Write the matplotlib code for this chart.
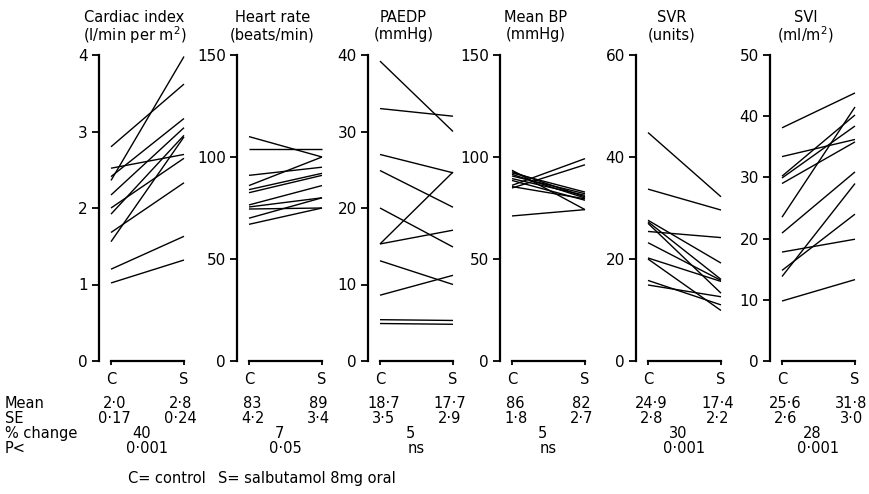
import matplotlib
matplotlib.use('Agg')
import matplotlib.pyplot as plt
from matplotlib.transforms import blended_transform_factory

# panel titles / units
names = ['Cardiac index', 'Heart rate', 'PAEDP', 'Mean BP', 'SVR', 'SVI']
units = ['(l/min per m$^2$)', '(beats/min)', '(mmHg)', '(mmHg)', '(units)', '(ml/m$^2$)']
ymax = [4, 150, 40, 150, 60, 50]
yticks = [[0, 1, 2, 3, 4], [0, 50, 100, 150], [0, 10, 20, 30, 40],
          [0, 50, 100, 150], [0, 20, 40, 60], [0, 10, 20, 30, 40, 50]]

# individual patients, control (C) and salbutamol (S)
ci_c = [2.80, 2.36, 2.52, 2.41, 2.17, 2.00, 1.92, 1.68, 1.56, 1.20, 1.02]
ci_s = [3.62, 3.98, 2.70, 3.17, 3.05, 2.65, 2.95, 2.33, 2.93, 1.63, 1.32]
hr_c = [110, 104, 91, 86, 84, 82.5, 76.5, 75.5, 74.5, 70, 67]
hr_s = [100, 104, 95, 100, 92, 91, 86, 80, 75, 80, 75]
paedp_c = [39.2, 33.0, 27.0, 24.9, 20.0, 15.3, 15.3, 13.1, 8.6, 5.4, 4.9]
paedp_s = [30.0, 32.0, 24.6, 20.1, 14.9, 24.7, 17.1, 10.0, 11.2, 5.3, 4.8]
bp_c = [93.5, 92.8, 92.2, 91.5, 90.7, 89.4, 88.5, 86.1, 85.5, 84.8, 71.1]
bp_s = [74.2, 80.5, 82.8, 79.9, 82.0, 81.2, 78.8, 99.2, 79.5, 96.2, 74.2]
svr_c = [44.8, 33.7, 27.6, 27.3, 27.0, 25.4, 23.2, 20.2, 20.0, 15.8, 14.9]
svr_s = [32.2, 29.6, 19.2, 16.0, 13.3, 24.2, 15.8, 15.6, 9.9, 11.0, 12.6]
svi_c = [38.1, 33.4, 30.2, 29.9, 29.0, 23.5, 20.9, 17.8, 14.8, 13.8, 9.8]
svi_s = [43.8, 36.2, 40.2, 38.4, 35.8, 41.5, 30.9, 19.9, 24.0, 29.0, 13.3]
ctrl = [ci_c, hr_c, paedp_c, bp_c, svr_c, svi_c]
salb = [ci_s, hr_s, paedp_s, bp_s, svr_s, svi_s]

# summary table
mean_c = ['2·0', '83', '18·7', '86', '24·9', '25·6']
mean_s = ['2·8', '89', '17·7', '82', '17·4', '31·8']
se_c = ['0·17', '4·2', '3·5', '1·8', '2·8', '2·6']
se_s = ['0·24', '3·4', '2·9', '2·7', '2·2', '3·0']
pct_change = ['40', '7', '5', '5', '30', '28']
p_less = ['0·001', '0·05', 'ns', 'ns', '0·001', '0·001']

W, H = 870, 494
fig = plt.figure(figsize=(W/100, H/100), dpi=100)
fig.patch.set_facecolor('white')

spine_px = [99, 237, 368, 500, 636, 770]   # left edge of each panel
top_px, zero_px = 55, 361
c_off, span = 12, 73                      # C at spine+12 px, S 73 px further
ax_w = 88
fs = 10.5

def fy(y):
    return 1 - y/H

for i in range(6):
    ax = fig.add_axes([spine_px[i]/W, fy(zero_px), ax_w/W, (zero_px-top_px)/H])
    ax.set_facecolor('none')
    for c, s in zip(ctrl[i], salb[i]):
        ax.plot([0, 1], [c, s], color='k', lw=1.0, solid_capstyle='butt', clip_on=False)
    ax.set_xlim(-c_off/span, (ax_w-c_off)/span)
    ax.set_ylim(0, ymax[i])
    ax.set_yticks(yticks[i])
    ax.set_xticks([0, 1])
    ax.set_xticklabels(['C', 'S'])
    ax.spines['top'].set_visible(False)
    ax.spines['right'].set_visible(False)
    ax.spines['left'].set_linewidth(1.6)
    ax.spines['bottom'].set_linewidth(1.6)
    ax.spines['bottom'].set_bounds(0, 1)
    ax.tick_params(axis='y', length=5, width=1.3, pad=3, labelsize=11)
    ax.tick_params(axis='x', length=3, width=1.3, pad=5, labelsize=fs)

    tr = blended_transform_factory(ax.transData, fig.transFigure)
    ax.text(0.32, fy(17), names[i], transform=tr, ha='center', va='center', fontsize=fs)
    ax.text(0.32, fy(35), units[i], transform=tr, ha='center', va='center', fontsize=fs)

    ax.text(0.05, fy(403), mean_c[i], transform=tr, ha='center', va='center', fontsize=fs)
    ax.text(0.95, fy(403), mean_s[i], transform=tr, ha='center', va='center', fontsize=fs)
    ax.text(0.05, fy(418), se_c[i], transform=tr, ha='center', va='center', fontsize=fs)
    ax.text(0.95, fy(418), se_s[i], transform=tr, ha='center', va='center', fontsize=fs)
    ax.text(0.42, fy(433), pct_change[i], transform=tr, ha='center', va='center', fontsize=fs)
    ax.text(0.5, fy(448), p_less[i], transform=tr, ha='center', va='center', fontsize=fs)

for lab, y in zip(['Mean', 'SE', '% change', 'P<'], [403, 418, 433, 448]):
    fig.text(5/W, fy(y), lab, ha='left', va='center', fontsize=fs)

fig.text(128/W, fy(478), 'C= control', ha='left', va='center', fontsize=fs)
fig.text(218/W, fy(478), 'S= salbutamol 8mg oral', ha='left', va='center', fontsize=fs)

fig.savefig('out.png', dpi=100)
